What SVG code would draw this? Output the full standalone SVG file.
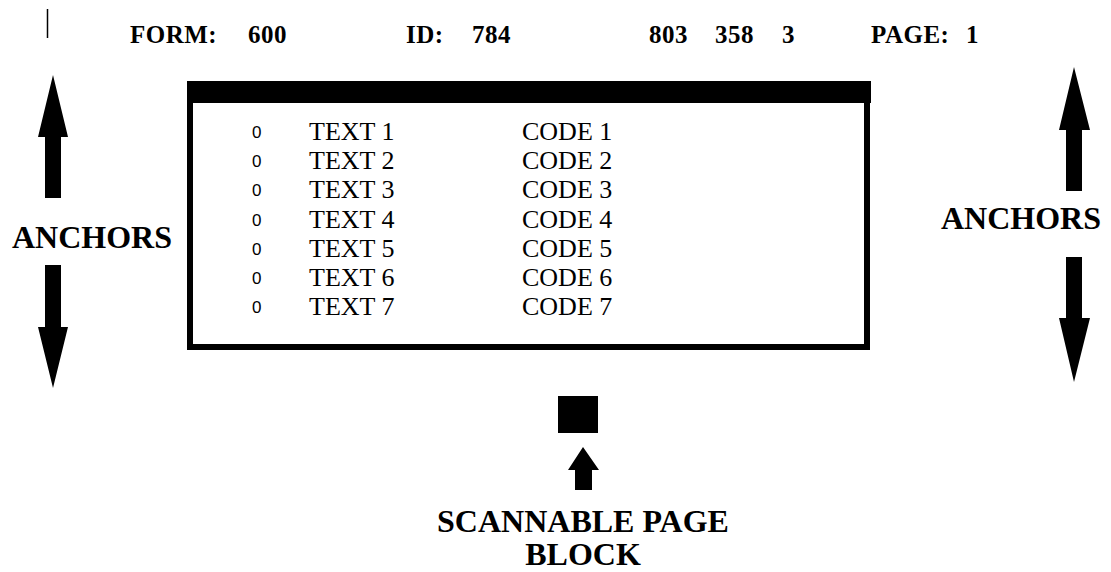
<svg xmlns="http://www.w3.org/2000/svg" width="1111" height="572" viewBox="0 0 1111 572">
<style>
.hdr{font-family:"Liberation Serif","Times New Roman",serif;font-weight:bold;font-size:25px;letter-spacing:0.5px;fill:#000}
.big{font-family:"Liberation Serif","Times New Roman",serif;font-weight:bold;font-size:32px;fill:#000}
.row{font-family:"Liberation Serif","Times New Roman",serif;font-size:26px;fill:#000}
.dot{font-family:"Liberation Sans",Arial,sans-serif;font-size:17px;fill:#000}
.arr{fill:#000}
</style>
<rect width="1111" height="572" fill="#fff"/>
<g id="header">
<line x1="47.5" y1="9" x2="47.5" y2="38" stroke="#000" stroke-width="1.5"/>
<text class="hdr" x="130" y="43">FORM:</text>
<text class="hdr" x="248" y="43">600</text>
<text class="hdr" x="406" y="43">ID:</text>
<text class="hdr" x="472" y="43">784</text>
<text class="hdr" x="649" y="43">803</text>
<text class="hdr" x="715" y="43">358</text>
<text class="hdr" x="782" y="43">3</text>
<text class="hdr" x="871" y="43">PAGE:</text>
<text class="hdr" x="966" y="43">1</text>
</g>
<g id="form-box">
<rect x="190" y="100" width="677" height="247" fill="none" stroke="#000" stroke-width="6"/>
<rect x="187" y="81" width="684" height="22" fill="#000"/>
<g id="rows">
<text class="dot" x="252" y="138">0</text><text class="row" x="309" y="140">TEXT 1</text><text class="row" x="522" y="140">CODE 1</text>
<text class="dot" x="252" y="167">0</text><text class="row" x="309" y="169">TEXT 2</text><text class="row" x="522" y="169">CODE 2</text>
<text class="dot" x="252" y="196">0</text><text class="row" x="309" y="198">TEXT 3</text><text class="row" x="522" y="198">CODE 3</text>
<text class="dot" x="252" y="226">0</text><text class="row" x="309" y="228">TEXT 4</text><text class="row" x="522" y="228">CODE 4</text>
<text class="dot" x="252" y="255">0</text><text class="row" x="309" y="257">TEXT 5</text><text class="row" x="522" y="257">CODE 5</text>
<text class="dot" x="252" y="284">0</text><text class="row" x="309" y="286">TEXT 6</text><text class="row" x="522" y="286">CODE 6</text>
<text class="dot" x="252" y="313">0</text><text class="row" x="309" y="315">TEXT 7</text><text class="row" x="522" y="315">CODE 7</text>
</g>
</g>
<g id="anchors-left">
<polygon class="arr" points="53,75 68,137 61,137 61,198 45,198 45,137 38,137"/>
<text class="big" x="12" y="248">ANCHORS</text>
<polygon class="arr" points="45,265 61,265 61,327 68,327 53,388 38,327 45,327"/>
</g>
<g id="anchors-right">
<polygon class="arr" points="1074,67 1090,130 1082,130 1082,191 1066,191 1066,130 1059,130"/>
<text class="big" x="941" y="229">ANCHORS</text>
<polygon class="arr" points="1066,257 1082,257 1082,318 1090,318 1074,382 1059,318 1066,318"/>
</g>
<g id="scannable-block">
<rect x="558" y="396" width="40" height="37" fill="#000"/>
<polygon class="arr" points="583,447 599,470 592,470 592,490 575,490 575,470 568,470"/>
<text class="big" x="583" y="532" text-anchor="middle">SCANNABLE PAGE</text>
<text class="big" x="583" y="565" text-anchor="middle">BLOCK</text>
</g>
</svg>
